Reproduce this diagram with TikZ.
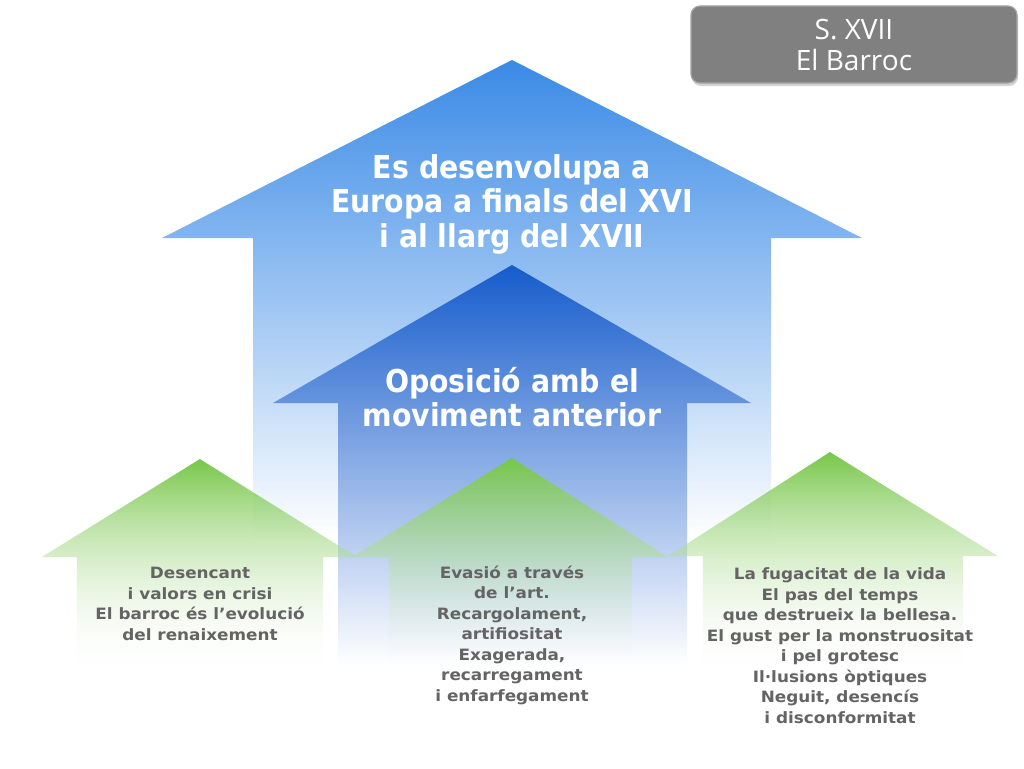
\documentclass[tikz,border=0pt]{standalone}
\usepackage{fontspec}
\setmainfont{DejaVu Sans}
\newfontfamily\condfont{DejaVu Sans Condensed}
\newfontfamily\listfont{DejaVu Sans}[FakeStretch=1.08]
\newfontfamily\boxfont{Open Sans}
\usetikzlibrary{fadings,shadows}
\definecolor{bluetop}{RGB}{58,138,230}
\definecolor{bluemid}{RGB}{196,220,247}
\definecolor{deeptop}{RGB}{22,92,204}
\definecolor{deepmid}{RGB}{176,186,228}
\definecolor{greentop}{RGB}{120,199,74}
\definecolor{greenlow}{RGB}{240,248,235}
\definecolor{listgray}{RGB}{100,100,100}
\definecolor{boxgray}{RGB}{128,128,128}
\tikzset{
  bigarrow/.style={top color=bluetop, middle color=bluemid, bottom color=white},
  midarrow/.style={top color=deeptop, middle color=deepmid, bottom color=white},
  greenarrow/.style={top color=greentop, bottom color=greenlow, path fading=south},
  headtext/.style={font=\condfont\bfseries\fontsize{31.5}{34.5}\selectfont, text=white, align=center},
  listtext/.style={font=\listfont\bfseries\fontsize{15.6}{20.5}\selectfont, text=listgray, align=center},
  periodbox/.style={fill=boxgray, draw=gray!70, line width=1.2pt, rounded corners=9pt,
    minimum width=326pt, minimum height=77pt, text=white, align=center,
    font=\boxfont\fontsize{28}{31}\selectfont,
    drop shadow={shadow xshift=1pt, shadow yshift=-3pt, opacity=0.35}}
}
\begin{document}
\begin{tikzpicture}[x=1pt,y=-1pt]
  \useasboundingbox[fill=white] (0,0) rectangle (1024,768);
  % blue arrows
  \shade[bigarrow] (512,60) -- (862,238) -- (771,238) -- (771,540) -- (253,540) -- (253,238) -- (162,238) -- cycle;
  \shade[midarrow] (512,265) -- (751,403) -- (687,403) -- (687,665) -- (338,665) -- (338,403) -- (273,403) -- cycle;
  % green arrows
  \shade[greenarrow] (200,459) -- (357,557) -- (323,557) -- (323,665) -- (77,665) -- (77,557) -- (42,557) -- cycle;
  \shade[greenarrow] (830,452) -- (998,556) -- (963,556) -- (963,665) -- (703,665) -- (703,556) -- (668,556) -- cycle;
  \shade[greenarrow] (512,458) -- (668,557) -- (632,557) -- (632,665) -- (389,665) -- (389,557) -- (352,557) -- cycle;
  % texts
  \node[periodbox] (period) at (854,44.5) {S. XVII\\El Barroc};
  \node[headtext] (europe) at (512,204) {Es desenvolupa a\\Europa a finals del XVI\\i al llarg del XVII};
  \node[headtext] (opposition) at (512,397) {Oposició amb el\\moviment anterior};
  \node[listtext] (disenchant) at (200,604) {Desencant\\i valors en crisi\\El barroc és l’evolució\\del renaixement};
  \node[listtext] (evasion) at (512,635) {Evasió a través\\de l’art.\\Recargolament,\\artifiositat\\Exagerada,\\recarregament\\i enfarfegament};
  \node[listtext] (transience) at (840,645.5) {La fugacitat de la vida\\El pas del temps\\que destrueix la bellesa.\\El gust per la monstruositat\\i pel grotesc\\Il·lusions òptiques\\Neguit, desencís\\i disconformitat};
\end{tikzpicture}
\end{document}
